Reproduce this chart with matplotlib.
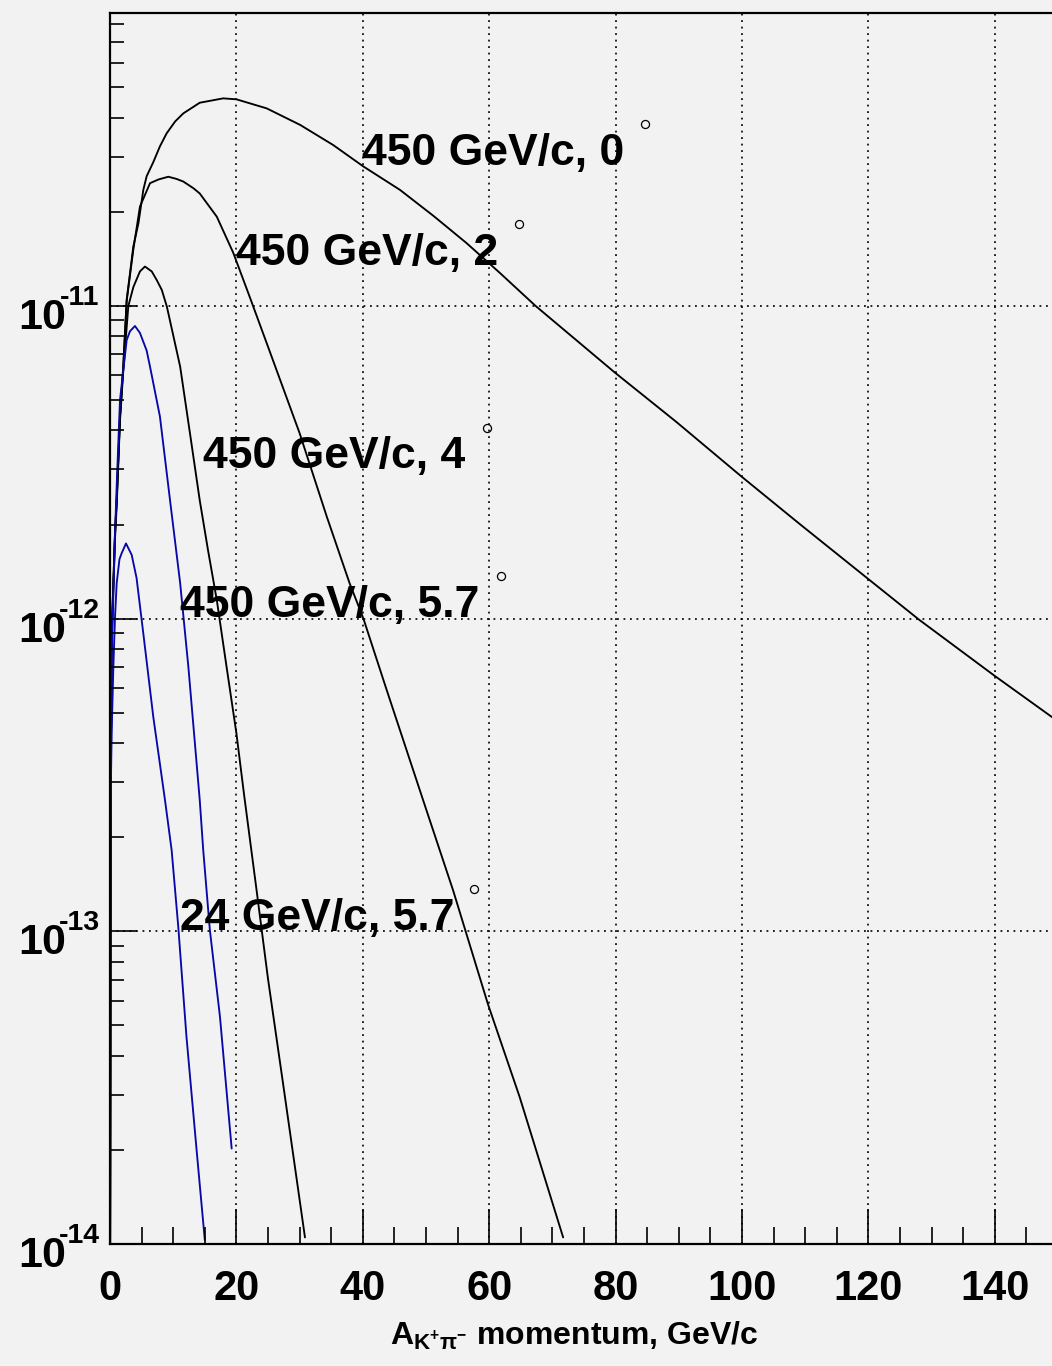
import numpy as np
import matplotlib.pyplot as plt
from matplotlib.ticker import LogLocator, MultipleLocator, NullFormatter

plt.rcParams['font.family'] = ['Liberation Sans', 'DejaVu Sans']
plt.rcParams['font.weight'] = 'bold'
plt.rcParams['mathtext.fontset'] = 'custom'
plt.rcParams['mathtext.rm'] = 'Liberation Sans'
plt.rcParams['mathtext.it'] = 'Liberation Sans'
plt.rcParams['mathtext.bf'] = 'Liberation Sans:bold'

# 450 GeV/c, 0
p450_0_x = [0.0, 0.1, 0.26, 0.79, 1.06, 1.58, 2.1, 2.64, 3.69, 4.5, 5.27, 5.8, 6.85, 7.9, 8.96,
            10.3, 11.6, 14.2, 17.9, 20.0, 24.8, 30.1, 35.3, 40.1, 45.9, 51.2, 56.4, 61.7, 67.3,
            79.9, 89.6, 99.9, 109.1, 119.9, 128.0, 139.9, 149.2]
p450_0_y = [5e-15, 2.6e-13, 8.9e-13, 1.87e-12, 2.4e-12, 4.43e-12, 6.4e-12, 1.045e-11, 1.549e-11,
            1.84e-11, 2.35e-11, 2.6e-11, 2.884e-11, 3.24e-11, 3.565e-11, 3.89e-11, 4.13e-11,
            4.467e-11, 4.613e-11, 4.581e-11, 4.285e-11, 3.793e-11, 3.273e-11, 2.793e-11,
            2.35e-11, 1.94e-11, 1.59e-11, 1.275e-11, 1.002e-11, 6.12e-12, 4.26e-12, 2.85e-12,
            2.01e-12, 1.343e-12, 9.93e-13, 6.58e-13, 4.82e-13]

# 450 GeV/c, 2
p450_2_x = [0.0, 0.1, 0.26, 0.79, 1.06, 1.58, 2.1, 2.64, 3.7, 4.74, 6.33, 7.7, 9.23, 10.5,
            11.6, 13.2, 14.2, 16.9, 19.5, 22.1, 24.8, 26.4, 30.0, 34.3, 37.9, 40.1, 43.7,
            50.1, 54.3, 59.8, 64.8, 71.7]
p450_2_y = [5e-15, 2.6e-13, 8.9e-13, 1.87e-12, 2.4e-12, 4.43e-12, 6.4e-12, 1.04e-11, 1.52e-11,
            2.08e-11, 2.47e-11, 2.54e-11, 2.59e-11, 2.55e-11, 2.5e-11, 2.38e-11, 2.29e-11,
            1.93e-11, 1.48e-11, 1.07e-11, 7.6e-12, 6.2e-12, 3.92e-12, 2.12e-12, 1.3e-12,
            1.0e-12, 5.98e-13, 2.43e-13, 1.35e-13, 5.85e-14, 2.96e-14, 1.05e-14]

# 450 GeV/c, 4
p450_4_x = [0.0, 0.1, 0.26, 0.79, 1.06, 1.58, 2.1, 2.9, 3.7, 4.74, 5.53, 6.6, 7.4, 8.2, 9.0,
            11.1, 12.65, 14.2, 15.5, 16.9, 18.45, 20.0, 21.2, 23.2, 25.0, 27.4, 30.85]
p450_4_y = [5e-15, 2.5e-13, 8.5e-13, 1.8e-12, 2.3e-12, 4.3e-12, 6.2e-12, 1.0e-11, 1.15e-11,
            1.29e-11, 1.337e-11, 1.29e-11, 1.21e-11, 1.125e-11, 9.95e-12, 6.4e-12, 3.92e-12,
            2.39e-12, 1.66e-12, 1.146e-12, 7.0e-13, 4.3e-13, 2.75e-13, 1.35e-13, 7.05e-14,
            3.24e-14, 1.05e-14]

# 450 GeV/c, 5.7
p450_57_x = [0.0, 0.1, 0.26, 0.79, 1.1, 1.58, 2.64, 3.16, 3.95, 4.74, 5.8, 6.33, 7.9, 9.5,
             11.1, 12.4, 14.2, 14.75, 15.8, 17.4, 19.25]
p450_57_y = [5e-15, 2.2e-13, 7.5e-13, 1.87e-12, 2.8e-12, 5.0e-12, 7.78e-12, 8.3e-12, 8.63e-12,
             8.2e-12, 7.2e-12, 6.4e-12, 4.43e-12, 2.39e-12, 1.3e-12, 7.01e-13, 2.63e-13,
             1.82e-13, 1.01e-13, 5.33e-14, 2.02e-14]

# 24 GeV/c, 5.7
p24_57_x = [0.0, 0.02, 0.1, 0.26, 0.53, 0.79, 1.06, 1.5, 1.85, 2.53, 3.43, 4.2, 5.27, 6.85,
            8.7, 9.75, 10.8, 12.1, 13.7, 15.0]
p24_57_y = [5e-15, 1.2e-14, 2.6e-13, 4.3e-13, 7.0e-13, 1.01e-12, 1.3e-12, 1.55e-12, 1.62e-12,
            1.74e-12, 1.6e-12, 1.35e-12, 8.97e-13, 4.85e-13, 2.63e-13, 1.82e-13, 1.035e-13,
            4.6e-14, 2.0e-14, 1.03e-14]

label_text = ['450 GeV/c, 0', '450 GeV/c, 2', '450 GeV/c, 4', '450 GeV/c, 5.7', '24 GeV/c, 5.7']
label_x = [39.9, 19.9, 14.75, 11.07, 11.07]
label_y = [2.825e-11, 1.352e-11, 3.03e-12, 1.011e-12, 1.009e-13]

marker_x = [84.7, 64.7, 59.65, 61.9, 57.6]
marker_y = [3.82e-11, 1.83e-11, 4.07e-12, 1.37e-12, 1.37e-13]

decades = [-14, -13, -12, -11]
xticks = [0, 20, 40, 60, 80, 100, 120, 140]

bg = '#f2f2f2'
fig = plt.figure(figsize=(10.52, 13.66), dpi=100, facecolor=bg)
ax = fig.add_axes([110 / 1052, 122 / 1366, 948 / 1052, 1231 / 1366], facecolor=bg)

line_kw = dict(lw=1.35, solid_joinstyle='round', solid_capstyle='round')
ax.plot(p450_0_x, p450_0_y, color='black', **line_kw)
ax.plot(p450_2_x, p450_2_y, color='black', **line_kw)
ax.plot(p450_4_x, p450_4_y, color='black', **line_kw)
ax.plot(p450_57_x, p450_57_y, color='#0808a8', **line_kw)
ax.plot(p24_57_x, p24_57_y, color='#0808a8', **line_kw)
ax.plot(marker_x, marker_y, 'o', mfc='none', mec='black', ms=5.8, mew=0.9)

for t, x, y in zip(label_text, label_x, label_y):
    ax.text(x, y, t, fontsize=32, fontweight='bold', ha='left', va='baseline')

ax.set_yscale('log')
ax.set_xlim(0, 150)
ax.set_ylim(1e-14, 8.65e-11)

ax.xaxis.set_major_locator(MultipleLocator(20))
ax.xaxis.set_minor_locator(MultipleLocator(5))
ax.set_xticks(xticks)
ax.set_xticklabels([str(v) for v in xticks])
ax.yaxis.set_major_locator(LogLocator(base=10, numticks=10))
ax.yaxis.set_minor_locator(LogLocator(base=10, subs=np.arange(2, 10), numticks=20))
ax.yaxis.set_major_formatter(NullFormatter())
ax.yaxis.set_minor_formatter(NullFormatter())

ax.tick_params(axis='x', which='major', direction='in', length=25, width=1.2, top=False,
               pad=18, labelsize=30)
ax.tick_params(axis='x', which='minor', direction='in', length=12, width=1.2, top=False)
ax.tick_params(axis='y', which='major', direction='in', length=19.5, width=1.2, right=False)
ax.tick_params(axis='y', which='minor', direction='in', length=10, width=1.2, right=False)

ax.grid(True, which='major', color='black', linestyle=(0, (1.1, 2.8)), linewidth=1.2)
ax.set_axisbelow(False)

for s in ['left', 'bottom', 'top']:
    ax.spines[s].set_linewidth(1.6)
ax.spines['right'].set_visible(False)

for e in decades:
    ax.annotate('10', xy=(0, 10.0 ** e), xycoords=('axes fraction', 'data'),
                xytext=(-31.7, -16.5), textcoords='offset points', ha='right', va='baseline',
                fontsize=31, fontweight='bold', annotation_clip=False)
    ax.annotate(str(e), xy=(0, 10.0 ** e), xycoords=('axes fraction', 'data'),
                xytext=(-7.5, 0.7), textcoords='offset points', ha='right', va='baseline',
                fontsize=20.5, fontweight='bold', annotation_clip=False)

ax.set_xlabel(r'$\mathbf{A}_{\mathbf{K^{+}}\mathrm{π}^{-}}$ momentum, GeV/c', fontsize=23,
              fontweight='bold', va='baseline')
ax.xaxis.set_label_coords((574 - 110) / 948, (1244 - 1345) / 1231)

fig.savefig('out.png', dpi=100, facecolor=bg)
